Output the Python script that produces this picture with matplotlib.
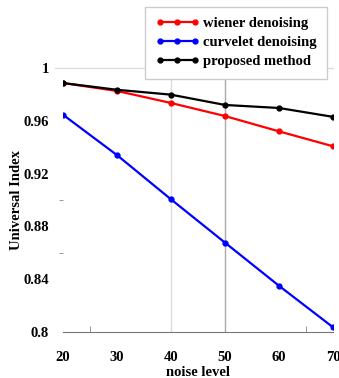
import matplotlib.pyplot as plt

noise = [20, 30, 40, 50, 60, 70]
wiener = [0.9886, 0.9826, 0.9735, 0.9636, 0.952, 0.9407]
curvelet = [0.9646, 0.934, 0.9005, 0.8677, 0.835, 0.8036]
proposed = [0.9886, 0.9835, 0.9798, 0.972, 0.9697, 0.963]

yticks = [0.8, 0.84, 0.88, 0.92, 0.96, 1.0]
yticklabels = ['0.8', '0.84', '0.88', '0.92', '0.96', '1']

plt.rcParams['font.family'] = 'Liberation Serif'
plt.rcParams['font.weight'] = 'bold'

fig = plt.figure(figsize=(3.39, 3.78), dpi=100)
ax = fig.add_axes([63/339, 1-332/378, 270/339, 264/378])

# grid lines
ax.axhline(1.0, xmin=-0.03, color='#dddddd', lw=1, zorder=0, clip_on=False)
ax.axvline(40, color='#dddddd', lw=1, zorder=0)
ax.axvline(50, color='#aaaaaa', lw=1, zorder=0)

ax.plot(noise, wiener, color='red', lw=1.6, marker='o', ms=3.5, label='wiener denoising')
ax.plot(noise, curvelet, color='blue', lw=1.6, marker='o', ms=3.5, label='curvelet denoising')
ax.plot(noise, proposed, color='black', lw=1.6, marker='o', ms=3.5, label='proposed method')

ax.set_xlim(20, 70)
ax.set_ylim(0.8, 1.0)
ax.set_xticks(noise)
ax.set_yticks(yticks)
ax.set_yticklabels(yticklabels)
ax.set_xticks([25, 65], minor=True)
ax.set_yticks([0.86, 0.9], minor=True)
ax.tick_params(axis='both', which='major', length=0, labelsize=10.5)
ax.tick_params(axis='x', which='major', pad=14)
ax.tick_params(axis='y', which='major', pad=10)
ax.tick_params(axis='x', which='minor', direction='in', length=4, color='#888888')
ax.tick_params(axis='y', which='minor', direction='out', length=3, color='#888888')
for s in ['top', 'right', 'left']:
    ax.spines[s].set_visible(False)
ax.spines['bottom'].set_color('#777777')

ax.set_xlabel('noise level', fontsize=10.5, fontweight='bold', labelpad=1)
ax.set_ylabel('Universal Index', fontsize=10.5, fontweight='bold')
ax.yaxis.set_label_coords(-0.15, 0.5)

leg = fig.legend(loc='upper left', bbox_to_anchor=(145/339, 1-7/378), numpoints=3,
                 fontsize=10.5, frameon=True, fancybox=False, handlelength=3,
                 borderpad=0.7, labelspacing=0.4, handletextpad=0.3,
                 borderaxespad=0)
leg.get_frame().set_edgecolor('#cccccc')
leg.get_frame().set_linewidth(1)
leg.get_frame().set_alpha(1)

plt.savefig('out.png', dpi=100)
